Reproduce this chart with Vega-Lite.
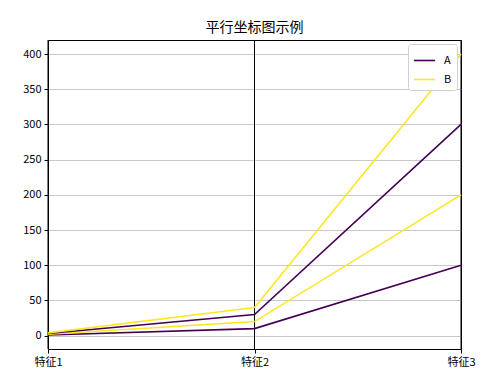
{
  "$schema": "https://vega.github.io/schema/vega-lite/v6.json",
  "autosize": "none",
  "width": 413,
  "height": 309,
  "padding": {"left": 48, "top": 40, "right": 42, "bottom": 35},
  "background": "white",
  "title": {"text": "平行坐标图示例", "font": "Noto Sans CJK SC", "fontSize": 14, "fontWeight": "normal", "color": "#000000", "offset": 5},
  "config": {
    "view": {"stroke": "#000000", "strokeWidth": 1},
    "axis": {"labelFont": "Noto Sans CJK SC", "labelFontSize": 11, "labelColor": "#000000", "tickColor": "#000000", "domainColor": "#000000", "title": null}
  },
  "datasets": {
    "rows": [
      {"id": 1, "类别": "A", "feature": "特征1", "value": 1},
      {"id": 1, "类别": "A", "feature": "特征2", "value": 10},
      {"id": 1, "类别": "A", "feature": "特征3", "value": 100},
      {"id": 2, "类别": "B", "feature": "特征1", "value": 2},
      {"id": 2, "类别": "B", "feature": "特征2", "value": 20},
      {"id": 2, "类别": "B", "feature": "特征3", "value": 200},
      {"id": 3, "类别": "A", "feature": "特征1", "value": 3},
      {"id": 3, "类别": "A", "feature": "特征2", "value": 30},
      {"id": 3, "类别": "A", "feature": "特征3", "value": 300},
      {"id": 4, "类别": "B", "feature": "特征1", "value": 4},
      {"id": 4, "类别": "B", "feature": "特征2", "value": 40},
      {"id": 4, "类别": "B", "feature": "特征3", "value": 400}
    ],
    "features": [
      {"feature": "特征1"},
      {"feature": "特征2"},
      {"feature": "特征3"}
    ]
  },
  "layer": [
    {
      "data": {"name": "features"},
      "mark": {"type": "rule", "color": "#000000", "strokeWidth": 1},
      "encoding": {
        "x": {"field": "feature", "type": "ordinal", "scale": {"type": "point", "padding": 0, "domain": ["特征1", "特征2", "特征3"]}}
      }
    },
    {
      "data": {"name": "rows"},
      "mark": {"type": "line", "strokeWidth": 1.6},
      "encoding": {
        "x": {"field": "feature", "type": "ordinal", "sort": ["特征1", "特征2", "特征3"], "scale": {"type": "point", "padding": 0, "domain": ["特征1", "特征2", "特征3"]}, "axis": {"labelAngle": 0, "labelAlign": "center", "labelBaseline": "top", "labelFlush": false, "labelBound": false, "grid": false, "domain": false, "tickSize": 4, "labelPadding": 3}},
        "y": {"field": "value", "type": "quantitative", "scale": {"domain": [-18.95, 419.95], "nice": false, "zero": false}, "axis": {"values": [0, 50, 100, 150, 200, 250, 300, 350, 400], "grid": true, "gridColor": "#c8c8c8", "gridWidth": 1, "domain": false, "tickSize": 4, "labelPadding": 3}},
        "color": {"field": "类别", "type": "nominal", "scale": {"domain": ["A", "B"], "range": ["#440154", "#fde725"]}, "legend": {"title": null, "orient": "top-right", "offset": 4, "symbolType": "stroke", "symbolSize": 450, "symbolStrokeWidth": 1.6, "labelFont": "Noto Sans CJK SC", "labelFontSize": 11, "labelColor": "#000000", "labelOffset": 8, "fillColor": "white", "strokeColor": "#d0d0d0", "padding": 5, "cornerRadius": 3, "rowPadding": 2}},
        "detail": {"field": "id"},
        "order": {"field": "feature"}
      }
    }
  ]
}
